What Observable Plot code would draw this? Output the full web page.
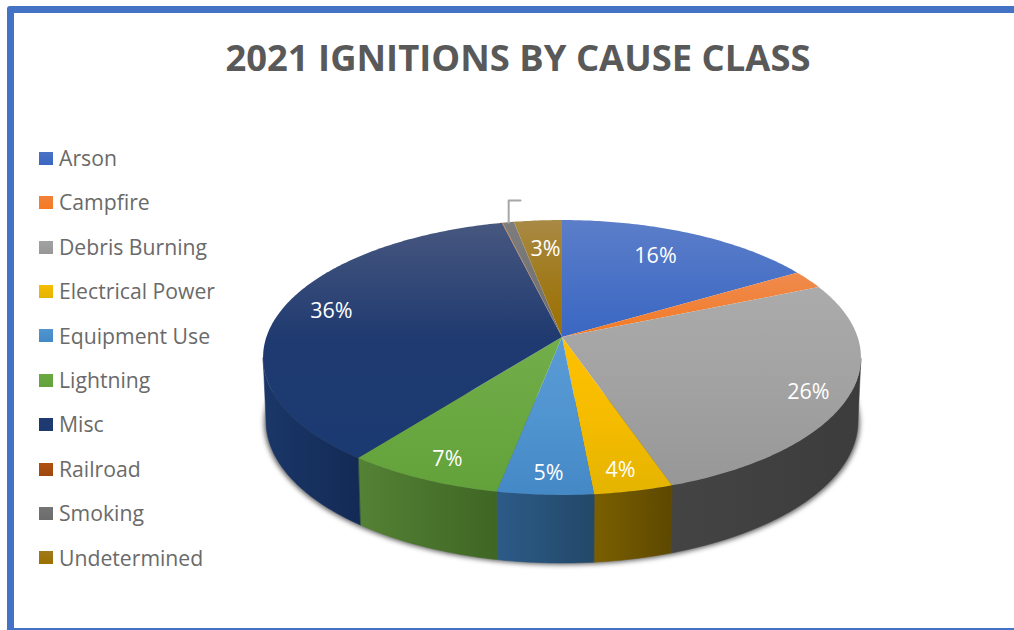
<!DOCTYPE html>
<html>
<head>
<meta charset="utf-8">
<script src="https://cdn.jsdelivr.net/npm/d3@7"></script>
<script src="https://cdn.jsdelivr.net/npm/@observablehq/plot@0.6"></script>
<style>
  html, body { margin: 0; padding: 0; background: #fff; overflow: hidden; }
  #page { position: relative; width: 1014px; height: 630px; font-family: "Open Sans", sans-serif; }
  #frame { position: absolute; left: 7px; top: 6px; right: -10px; height: 615px; border: solid #4472c4; border-width: 7px 7px 2px 7px; border-radius: 3px 0 0 0; }
  #title { position: relative; height: 90px; box-sizing: border-box; padding-top: 32px; width: 1036px; text-align: center; font-size: 36.4px; line-height: 50px; font-weight: 700; color: #595959; white-space: nowrap; }
  #chart { position: relative; height: 540px; }
  #chart svg { display: block; background: transparent; }
  #legend { position: absolute; left: 39px; top: 136px; font-size: 21.2px; line-height: 44.4px; color: #6a6a6a; }
  #legend div { display: flex; align-items: center; white-space: nowrap; }
  #legend i { display: block; width: 14px; height: 13px; margin-right: 6px; }
</style>
</head>
<body>
<div id="page">
  <div id="frame"></div>
  <div id="title"></div>
  <div id="chart"></div>
  <div id="legend"></div>
</div>
<script>
// ---- data
const titleText = "2021 IGNITIONS BY CAUSE CLASS";
const categories = ["Arson", "Campfire", "Debris Burning", "Electrical Power", "Equipment Use", "Lightning", "Misc", "Railroad", "Smoking", "Undetermined"];
const shares = [16.4, 2.2, 26.3, 3.7, 4.5, 7.4, 35.9, 0.05, 0.7, 3.0];
const percentLabels = ["16%", null, "26%", "4%", "5%", "7%", "36%", null, null, "3%"];

// ---- colours
const topLight = ["#5c7ec9", "#ef8b4d", "#ababab", "#ffc000", "#5b9bd5", "#72ae4a", "#47577f", "#c55a11", "#7d7d7d", "#a98a45"];
const topMid   = ["#4a72c6", "#f1823a", "#a2a2a2", "#f6bc00", "#5094d0", "#6aa842", "#1f3a70", "#b0500f", "#757575", "#a07a1c"];
const topDark  = ["#3a67c2", "#f47a21", "#979797", "#e4b400", "#4488c6", "#63a13a", "#1b3a72", "#9e480e", "#6c6c6c", "#9c6f00"];
const wallLeft  = ["#2b4a88", "#a85620", "#444444", "#7b5f00", "#2c5b88", "#548235", "#1a3768", "#7a3a0c", "#444444", "#6a4c00"];
const wallRight = ["#223c70", "#8c4719", "#3c3c3c", "#5d4800", "#234868", "#3f6624", "#132a55", "#622e09", "#3a3a3a", "#523a00"];

// ---- pie layout (tilted disc in a perspective view)
const perspective = 0.149;
const wallScaleX = 0.99, wallScaleY = 1.032, wallDrop = 0.469;
const labelU = [0.3456, 0, 0.784, 0.171, -0.041, -0.343, -0.805, 0, 0, -0.0637];
const labelV = [0.662, 0, -0.386, -0.8625, -0.879, -0.8, 0.2, 0, 0, 0.725];
const leaderLift = 0.165, leaderRun = 0.04;

const projectUV = (u, v) => {
  const d = 1 + perspective * v;
  return [u / d, v / d];
};
const project = (angle) => projectUV(Math.sin(angle), Math.cos(angle));
const toWall = ([x, y]) => [x * wallScaleX, y * wallScaleY - wallDrop];

const total = d3.sum(shares);
const cumulative = d3.cumsum(shares);
const slices = categories.map((name, i) => {
  const a0 = ((cumulative[i] - shares[i]) / total) * 2 * Math.PI;
  const a1 = (cumulative[i] / total) * 2 * Math.PI;
  const steps = Math.max(2, Math.ceil((a1 - a0) / 0.012));
  const rim = d3.range(steps + 1).map((k) => {
    const angle = a0 + ((a1 - a0) * k) / steps;
    const p = project(angle);
    const w = toWall(p);
    return {x: p[0], y: p[1], wx: w[0], wy: w[1], front: Math.cos(angle) < -perspective};
  });
  return {name, i, a0, a1, mid: (a0 + a1) / 2, rim, frontRim: rim.filter((d) => d.front)};
});

const diskRim = d3.range(0, 2 * Math.PI + 0.02, 0.02)
  .filter((a) => Math.cos(a) < 0.2)
  .map((a) => {
    const w = toWall(project(a));
    return {x: w[0], y: w[1]};
  });

const labels = slices
  .filter((s) => percentLabels[s.i])
  .map((s) => {
    const p = projectUV(labelU[s.i], labelV[s.i]);
    return {x: p[0], y: p[1], text: percentLabels[s.i]};
  });

const smoking = slices[categories.indexOf("Smoking")];
const leaderBase = project(smoking.mid);
const leader = [
  {x: leaderBase[0], y: leaderBase[1]},
  {x: leaderBase[0], y: leaderBase[1] + leaderLift},
  {x: leaderBase[0] + leaderRun, y: leaderBase[1] + leaderLift}
];

const gradients = () => {
  const svg = d3.create("svg:g");
  const defs = svg.append("defs");
  categories.forEach((_, i) => {
    const t = defs.append("linearGradient").attr("id", `top-${i}`).attr("x1", 0).attr("x2", 0).attr("y1", 0).attr("y2", 1);
    t.append("stop").attr("offset", "0%").attr("stop-color", topLight[i]);
    t.append("stop").attr("offset", "50%").attr("stop-color", topMid[i]);
    t.append("stop").attr("offset", "100%").attr("stop-color", topDark[i]);
    const w = defs.append("linearGradient").attr("id", `wall-${i}`).attr("x1", 0).attr("x2", 1).attr("y1", 0).attr("y2", 0);
    w.append("stop").attr("offset", "0%").attr("stop-color", wallLeft[i]);
    w.append("stop").attr("offset", "100%").attr("stop-color", wallRight[i]);
  });
  return svg.node();
};

const chart = Plot.plot({
  width: 1014,
  height: 540,
  margin: 0,
  x: {domain: [-1, 1], range: [266.4, 857.6], axis: null},
  y: {domain: [-1, 1], range: [381.4, 112.6], axis: null},
  style: {background: "transparent"},
  marks: [
    gradients,
    Plot.area(diskRim, {
      x1: () => 0, y1: () => -wallDrop,
      x2: (d) => d.x * 1.006, y2: (d) => d.y - 0.012,
      fill: "#444444", fillOpacity: 0.85, imageFilter: "blur(2.5px)"
    }),
    ...slices.filter((s) => s.frontRim.length > 1).map((s) => Plot.area(s.frontRim, {
      x1: "x", y1: "y", x2: "wx", y2: "wy",
      fill: `url(#wall-${s.i})`, stroke: `url(#wall-${s.i})`, strokeWidth: 0.5
    })),
    ...slices.map((s) => Plot.area(s.rim, {
      x1: () => 0, y1: () => 0, x2: "x", y2: "y",
      fill: `url(#top-${s.i})`
    })),
    Plot.line(leader, {x: "x", y: "y", stroke: "#a6a6a6", strokeWidth: 2}),
    Plot.text(labels, {
      x: "x", y: "y", text: "text",
      fill: "#ffffff", fontSize: 21.5, fontFamily: "Open Sans, sans-serif"
    })
  ]
});
document.getElementById("chart").append(chart);
document.getElementById("title").textContent = titleText;

const legend = document.getElementById("legend");
categories.forEach((name, i) => {
  const row = document.createElement("div");
  const swatch = document.createElement("i");
  swatch.style.background = `linear-gradient(${topMid[i]}, ${topDark[i]})`;
  row.append(swatch, document.createTextNode(name));
  legend.append(row);
});
</script>
</body>
</html>
